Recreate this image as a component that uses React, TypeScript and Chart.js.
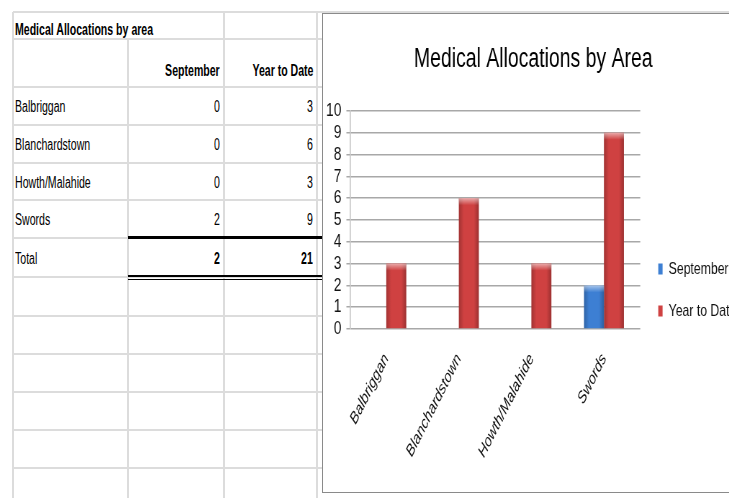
import React, { useEffect, useRef } from 'react';
import { Chart, registerables } from 'chart.js';

Chart.register(...registerables);

// ---- data ----
const AREAS = ['Balbriggan', 'Blanchardstown', 'Howth/Malahide', 'Swords'];
const SEPTEMBER = [0, 0, 0, 2];
const YEAR_TO_DATE = [3, 6, 3, 9];
const TOTAL_LABEL = 'Total';
const TOTAL_SEPTEMBER = 2;
const TOTAL_YEAR_TO_DATE = 21;
const SERIES_NAMES = ['September', 'Year to Date'];
const TABLE_TITLE = 'Medical Allocations by area';
const CHART_TITLE = 'Medical Allocations by Area';
const Y_MIN = 0;
const Y_MAX = 10;
const Y_STEP = 1;

// ---- style ----
const FONT = '"Liberation Sans", Arial, sans-serif';
const SQUEEZE = 0.72; // the reference screenshot is horizontally compressed
const TABLE_SQUEEZE = 0.66;
const CANVAS_W = 584;
const CANVAS_H = 552;
const SERIES_COLORS = ['#3d7fd3', '#cf4141'];
const GRID = '#dcdcdc';
const COLS = [13, 128, 224, 317];
const ROWS = [12, 39, 87, 125, 163, 200, 238, 277, 316, 354, 392, 430, 468, 506];

const bevelPlugin = {
  id: 'bevel',
  afterDatasetsDraw(chart: any) {
    const ctx = chart.ctx as CanvasRenderingContext2D;
    chart.data.datasets.forEach((_ds: any, di: number) => {
      const meta = chart.getDatasetMeta(di);
      meta.data.forEach((bar: any) => {
        const { x, y, base, width } = bar.getProps(['x', 'y', 'base', 'width'], true);
        const h = base - y;
        if (h <= 0.5) return;
        const left = x - width / 2;
        ctx.save();
        const hg = ctx.createLinearGradient(left, 0, left + width, 0);
        hg.addColorStop(0, 'rgba(0,0,0,0.22)');
        hg.addColorStop(0.25, 'rgba(0,0,0,0)');
        hg.addColorStop(0.75, 'rgba(0,0,0,0)');
        hg.addColorStop(1, 'rgba(0,0,0,0.25)');
        ctx.fillStyle = hg;
        ctx.fillRect(left, y, width, h);
        const bh = Math.min(7, h);
        const vg = ctx.createLinearGradient(0, y, 0, y + bh);
        vg.addColorStop(0, 'rgba(255,255,255,0.55)');
        vg.addColorStop(1, 'rgba(255,255,255,0)');
        ctx.fillStyle = vg;
        ctx.fillRect(left, y, width, bh);
        ctx.restore();
      });
    });
  },
};

function ChartBox() {
  const ref = useRef<HTMLCanvasElement | null>(null);
  useEffect(() => {
    if (!ref.current) return;
    Chart.defaults.font.family = FONT;
    const chart = new Chart(ref.current, {
      type: 'bar',
      data: {
        labels: AREAS,
        datasets: [
          {
            label: SERIES_NAMES[0],
            data: SEPTEMBER,
            backgroundColor: SERIES_COLORS[0],
            categoryPercentage: 0.55,
            barPercentage: 1.0,
          },
          {
            label: SERIES_NAMES[1],
            data: YEAR_TO_DATE,
            backgroundColor: SERIES_COLORS[1],
            categoryPercentage: 0.55,
            barPercentage: 1.0,
          },
        ],
      },
      options: {
        responsive: false,
        animation: false,
        layout: { padding: 0 },
        plugins: {
          title: {
            display: true,
            text: CHART_TITLE,
            color: '#000',
            font: { size: 27, weight: 'normal' },
            padding: { top: 29, bottom: 35.6 },
          },
          legend: {
            position: 'right',
            labels: {
              boxWidth: 6,
              boxHeight: 11,
              padding: 25,
              color: '#111',
              font: { size: 17 },
            },
          },
          tooltip: { enabled: false },
        },
        scales: {
          x: {
            grid: { display: false, drawTicks: false },
            border: { display: false },
            ticks: {
              color: '#111',
              font: { size: 17, style: 'italic' },
              minRotation: 55,
              maxRotation: 55,
              padding: 21,
              autoSkip: false,
            },
            afterFit: (s: any) => {
              s.height = CANVAS_H - 315;
            },
          },
          y: {
            min: Y_MIN,
            max: Y_MAX,
            ticks: { stepSize: Y_STEP, color: '#111', font: { size: 19 }, padding: 7, autoSkip: false },
            grid: { color: '#a8a8a8', lineWidth: 1.5, drawTicks: true, tickLength: 5 },
            border: { display: true, color: '#bcbcbc', width: 1.5 },
            afterFit: (s: any) => {
              s.width = 37.5;
            },
          },
        },
      },
      plugins: [bevelPlugin],
    });
    return () => chart.destroy();
  }, []);
  return (
    <canvas
      ref={ref}
      width={CANVAS_W}
      height={CANVAS_H}
      style={{
        display: 'block',
        position: 'absolute',
        left: 0,
        top: 0,
        transform: `scaleX(${SQUEEZE})`,
        transformOrigin: '0 0',
      }}
    />
  );
}

const cellText: React.CSSProperties = {
  position: 'absolute',
  display: 'flex',
  fontFamily: FONT,
  fontSize: 16,
  color: '#000',
  whiteSpace: 'nowrap',
  lineHeight: '18px',
  boxSizing: 'border-box',
};

function Squeezed(props: { children: React.ReactNode; origin: 'left' | 'right' }) {
  return (
    <span
      style={{
        display: 'inline-block',
        transform: `scaleX(${TABLE_SQUEEZE})`,
        transformOrigin: `${props.origin} center`,
      }}
    >
      {props.children}
    </span>
  );
}

function Cell(props: {
  col: number;
  row: number;
  text: string | number;
  align?: 'left' | 'right';
  bold?: boolean;
  v?: 'center' | 'end';
  pb?: number;
}) {
  const { col, row, text, align = 'left', bold, v = 'center', pb = 0 } = props;
  const left = COLS[col];
  const right = COLS[col + 1];
  return (
    <div
      style={{
        ...cellText,
        left: left + 2,
        width: right - left - 6,
        top: ROWS[row],
        height: ROWS[row + 1] - ROWS[row],
        justifyContent: align === 'right' ? 'flex-end' : 'flex-start',
        alignItems: v === 'end' ? 'flex-end' : 'center',
        paddingBottom: pb,
        paddingTop: v === 'center' ? 2 : 0,
        fontWeight: bold ? 'bold' : 'normal',
      }}
    >
      <Squeezed origin={align}>{text}</Squeezed>
    </div>
  );
}

export default function App() {
  useEffect(() => {
    document.body.style.margin = '0';
  }, []);
  const hLines = ROWS.map((y, i) => (
    <div
      key={'h' + i}
      style={{
        position: 'absolute',
        left: COLS[0],
        top: y - 1,
        width: (i === 0 ? 729 : 323) - COLS[0],
        height: 2,
        background: GRID,
      }}
    />
  ));
  const vLines = COLS.map((x, i) => (
    <div
      key={'v' + i}
      style={{
        position: 'absolute',
        left: x - 1,
        top: i === 1 ? ROWS[1] : ROWS[0],
        width: 2,
        height: 498,
        background: GRID,
      }}
    />
  ));
  return (
    <div style={{ position: 'relative', width: 729, height: 498, overflow: 'hidden', background: '#fff' }}>
      {hLines}
      {vLines}
      {[392, 453, 507].map((x) => (
        <div key={'t' + x} style={{ position: 'absolute', left: x - 1, top: 11, width: 2, height: 6, background: GRID }} />
      ))}
      <div
        style={{
          ...cellText,
          left: COLS[0] + 2,
          top: ROWS[0],
          height: ROWS[1] - ROWS[0],
          alignItems: 'flex-end',
          paddingBottom: 0,
          fontWeight: 'bold',
        }}
      >
        <Squeezed origin="left">{TABLE_TITLE}</Squeezed>
      </div>
      <Cell col={1} row={1} text={SERIES_NAMES[0]} align="right" bold v="end" pb={7} />
      <Cell col={2} row={1} text={SERIES_NAMES[1]} align="right" bold v="end" pb={7} />
      {AREAS.map((a, i) => (
        <React.Fragment key={a}>
          <Cell col={0} row={2 + i} text={a} />
          <Cell col={1} row={2 + i} text={SEPTEMBER[i]} align="right" />
          <Cell col={2} row={2 + i} text={YEAR_TO_DATE[i]} align="right" />
        </React.Fragment>
      ))}
      <Cell col={0} row={6} text={TOTAL_LABEL} />
      <Cell col={1} row={6} text={TOTAL_SEPTEMBER} align="right" bold />
      <Cell col={2} row={6} text={TOTAL_YEAR_TO_DATE} align="right" bold />
      <div style={{ position: 'absolute', left: 128, top: 236, width: 195, height: 3, background: '#000' }} />
      <div style={{ position: 'absolute', left: 128, top: 275, width: 195, height: 1.5, background: '#000' }} />
      <div style={{ position: 'absolute', left: 128, top: 278.5, width: 195, height: 1.5, background: '#000' }} />
      <div
        style={{
          position: 'absolute',
          left: 322,
          top: 13,
          width: 460,
          height: 480,
          border: '1.5px solid #8a8a8a',
          background: '#fff',
          boxSizing: 'border-box',
          overflow: 'hidden',
        }}
      >
        <ChartBox />
      </div>
    </div>
  );
}
